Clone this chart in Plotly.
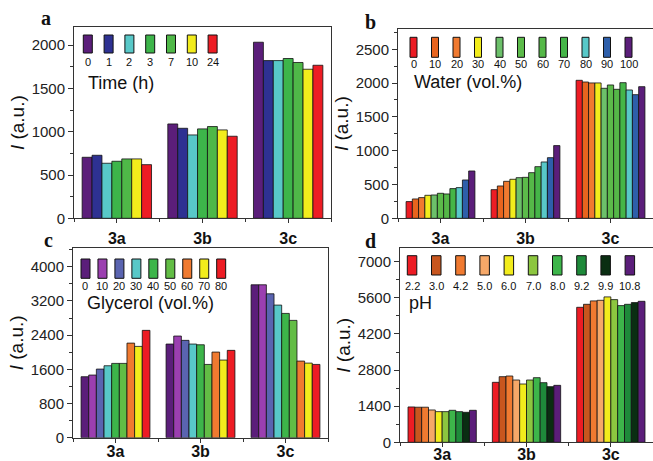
import plotly.graph_objects as go

W, H = 653, 461

groups = ["3a", "3b", "3c"]

# Panel a: time (h)
time_labels = ["0", "1", "2", "3", "7", "10", "24"]
time_I = [
    [705, 1090, 2034],
    [728, 1040, 1822],
    [636, 963, 1822],
    [659, 1033, 1846],
    [686, 1060, 1800],
    [686, 1021, 1722],
    [620, 948, 1768],
]
time_colors = ["#5b1e7a", "#2e3192", "#58c8c8", "#3db54a", "#4fb848", "#f2ec1c", "#ed1c24"]

# Panel b: water (vol.%)
water_labels = ["0", "10", "20", "30", "40", "50", "60", "70", "80", "90", "100"]
water_I = [
    [247, 424, 2041],
    [286, 478, 2016],
    [306, 547, 2002],
    [340, 577, 2002],
    [345, 601, 1923],
    [370, 606, 1972],
    [360, 675, 1908],
    [439, 764, 2006],
    [454, 833, 1898],
    [567, 897, 1829],
    [700, 1075, 1947],
]
water_colors = ["#ed1c24", "#e8641e", "#f07a30", "#f2ec1c", "#6cc06a", "#5cbb4a",
                "#55b848", "#45b548", "#58c8c8", "#2e5faa", "#5b1e7a"]

# Panel c: glycerol (vol.%)
gly_labels = ["0", "10", "20", "30", "40", "50", "60", "70", "80"]
gly_I = [
    [1427, 2192, 3579],
    [1466, 2379, 3579],
    [1606, 2278, 3368],
    [1684, 2192, 3104],
    [1739, 2175, 2909],
    [1739, 1715, 2746],
    [2214, 2004, 1793],
    [2137, 1817, 1746],
    [2512, 2044, 1715],
]
gly_colors = ["#5b1e7a", "#9b3fb0", "#5a64b0", "#58c8c8", "#3db54a", "#62bd45",
              "#f07a30", "#f2ec1c", "#ed1c24"]

# Panel d: pH
ph_labels = ["2.2", "3.0", "4.2", "5.0", "6.0", "7.0", "8.0", "9.2", "9.9", "10.8"]
ph_I = [
    [1370, 2325, 5233],
    [1360, 2544, 5349],
    [1360, 2570, 5481],
    [1253, 2415, 5504],
    [1189, 2260, 5636],
    [1189, 2415, 5531],
    [1240, 2505, 5298],
    [1189, 2312, 5349],
    [1163, 2157, 5415],
    [1240, 2208, 5465],
]
ph_colors = ["#ed1c24", "#c8561e", "#f07a30", "#f6a868", "#f2ec1c", "#8cc63f",
             "#3db54a", "#1e8a3a", "#0a2e12", "#5b1e7a"]

def px(x):
    return x / W

def py(y):
    return 1 - y / H

panels = [
    dict(lab=time_labels, val=time_I, col=time_colors, xd=(74, 331), yd=(27, 218.3),
         yr=[0, 2210], dt=500, mn=250, title="Time (h)", so=1,
         sw=(83.3, 9, 20.8, 35, 53, 62), tt=(86, 83), letter=("a", 46, 18)),
    dict(lab=water_labels, val=water_I, col=water_colors, xd=(398, 653), yd=(29, 218.3),
         yr=[0, 2800], dt=500, mn=250, title="Water (vol.%)", so=1,
         sw=(410, 7, 21.5, 37.3, 57.3, 64), tt=(411.7, 82), letter=("b", 370, 22)),
    dict(lab=gly_labels, val=gly_I, col=gly_colors, xd=(73, 328), yd=(248, 437.7),
         yr=[0, 4440], dt=800, mn=400, title="Glycerol (vol.%)", so=-5,
         sw=(81, 9, 16.96, 259, 278.3, 285.5), tt=(85, 303), letter=("c", 48, 240)),
    dict(lab=ph_labels, val=ph_I, col=ph_colors, xd=(400, 653), yd=(248.3, 442.3),
         yr=[0, 7520], dt=1400, mn=700, title="pH", so=-7,
         sw=(407.3, 9.5, 24.2, 255.7, 275, 285.5), tt=(407, 303), letter=("d", 370, 241)),
]

fig = go.Figure()
shapes = []
annotations = []
xcat = [0, 1, 2]

for k, p in enumerate(panels):
    n = k + 1
    xa = "x" if n == 1 else f"x{n}"
    ya = "y" if n == 1 else f"y{n}"
    nb = len(p["lab"])
    for i in range(nb):
        fig.add_trace(go.Bar(
            x=xcat, y=p["val"][i], name=p["lab"][i], xaxis=xa, yaxis=ya,
            marker=dict(color=p["col"][i], line=dict(color="#111111", width=0.8)),
            offsetgroup=f"g{n}_{i}", showlegend=False,
        ))
    axis_common = dict(showline=True, linecolor="#333333", linewidth=1, mirror=True,
                       ticks="outside", tickcolor="#333333", showgrid=False, zeroline=False,
                       automargin=False)
    fig.layout[f"xaxis{'' if n == 1 else n}"] = dict(
        domain=[px(p["xd"][0]), px(p["xd"][1])], anchor=ya, range=[-0.5, 2.5],
        tickvals=xcat, ticktext=[f"<b>{g}</b>" for g in groups], ticklen=4,
        tickfont=dict(family="Liberation Sans, Arial", size=16, color="#111111"),
        minor=dict(tick0=0.5, dtick=1, ticks="outside", ticklen=3, tickcolor="#333333"),
        ticklabelstandoff=p["so"],
        **axis_common)
    fig.layout[f"yaxis{'' if n == 1 else n}"] = dict(
        domain=[py(p["yd"][1]), py(p["yd"][0])], anchor=xa, range=p["yr"],
        tick0=0, dtick=p["dt"], ticklen=5,
        tickfont=dict(family="Liberation Sans, Arial", size=15, color="#222222"),
        minor=dict(dtick=p["mn"], ticks="outside", ticklen=3, tickcolor="#333333"),
        title=dict(text="<i>I</i> (a.u.)", standoff=1,
                   font=dict(family="Liberation Sans, Arial", size=19, color="#111111")),
        **axis_common)
    x0, sw_w, sp, sy0, sy1, ly = p["sw"]
    for i in range(nb):
        left = x0 + i * sp
        shapes.append(dict(type="rect", xref="paper", yref="paper",
                           x0=px(left), x1=px(left + sw_w), y0=py(sy1), y1=py(sy0),
                           fillcolor=p["col"][i], line=dict(color="#111111", width=1)))
        annotations.append(dict(text=p["lab"][i], xref="paper", yref="paper",
                                x=px(left + sw_w / 2), y=py(ly), xanchor="center", yanchor="middle",
                                showarrow=False,
                                font=dict(family="Liberation Sans, Arial", size=11, color="#111111")))
    annotations.append(dict(text=p["title"], xref="paper", yref="paper",
                            x=px(p["tt"][0]), y=py(p["tt"][1]), xanchor="left", yanchor="middle",
                            showarrow=False,
                            font=dict(family="Liberation Sans, Arial", size=18, color="#111111")))
    lt, lx, ly2 = p["letter"]
    annotations.append(dict(text=f"<b>{lt}</b>", xref="paper", yref="paper",
                            x=px(lx), y=py(ly2), xanchor="center", yanchor="middle",
                            showarrow=False,
                            font=dict(family="Liberation Serif, DejaVu Serif", size=20, color="#111111")))

fig.update_layout(
    width=W, height=H, margin=dict(l=0, r=0, t=0, b=0, autoexpand=False),
    paper_bgcolor="white", plot_bgcolor="white",
    barmode="group", bargap=0.19, bargroupgap=0,
    shapes=shapes, annotations=annotations,
)

fig.write_html("out.html", config={"displayModeBar": False},
               post_script="document.body.style.margin='0px';document.body.style.overflow='hidden';")
